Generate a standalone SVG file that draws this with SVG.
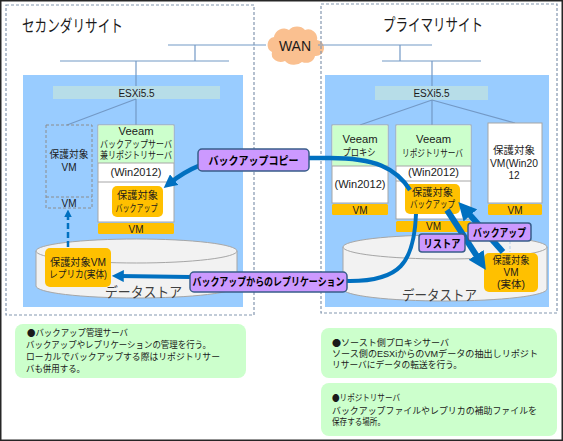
<svg xmlns="http://www.w3.org/2000/svg" width="563" height="441" viewBox="0 0 563 441">
<defs>
<style>
text{font-family:"Liberation Sans","Noto Sans CJK JP",sans-serif;fill:#1a1a1a}
.t{font-size:10px;text-anchor:middle}
.title{font-size:17px}
.site{fill:none;stroke:#8497b0;stroke-width:1.2;stroke-dasharray:3 2}
.panel{fill:#99ccff}
.esx{fill:#b7dde8}
.net{stroke:#7399c6;stroke-width:1.2;fill:none}
.box{fill:#fff;stroke:#a6a6a6;stroke-width:1}
.hdr{fill:#ccffcc}
.vm{fill:#ffc000}
.cyl{fill:#f2f2f2;stroke:#a6a6a6;stroke-width:1}
.ds{font-size:14px;fill:#404040}
.arr{fill:none;stroke:#0070c0}
.lbl{fill:#cc99ff;stroke:#385d8a;stroke-width:1.5}
.lt{font-size:11px;font-weight:bold;text-anchor:middle;fill:#000}
.note{fill:#ccffcc}
.nt{font-size:9px}
.dot{font-family:"Noto Sans CJK JP",sans-serif}
</style>
<marker id="ah" viewBox="0 0 10 10" refX="4" refY="5" markerWidth="3" markerHeight="3" orient="auto"><path d="M0,0 L10,5 L0,10 z" fill="#0070c0"/></marker>
</defs>
<rect x="0.75" y="0.75" width="561.5" height="439.5" fill="#fff" stroke="#262626" stroke-width="1.5"/>

<g id="wan">
<path d="M272 52 a8 8 0 0 1 2 -15 a10 10 0 0 1 15 -7 a10 9 0 0 1 16 0 a9 9 0 0 1 12 10 a8 8 0 0 1 -2 16 a9 8 0 0 1 -13 6 a11 9 0 0 1 -17 -1 a9 8 0 0 1 -13 -9 z" fill="#fac090"/>
<text x="295" y="51" font-size="14" text-anchor="middle">WAN</text>
</g>

<g id="secondary-site">
<rect class="site" x="6" y="5" width="248" height="310"/>
<text class="title" x="22" y="32" textLength="101" lengthAdjust="spacingAndGlyphs">セカンダリサイト</text>
<rect class="panel" x="23" y="75" width="220" height="232"/>
<rect class="esx" x="53" y="86" width="167" height="13"/>
<text x="136.5" y="96.5" font-size="10" text-anchor="middle">ESXi5.5</text>
</g>

<g id="primary-site">
<rect class="site" x="321" y="4" width="236" height="309"/>
<text class="title" x="383" y="31" textLength="100" lengthAdjust="spacingAndGlyphs">プライマリサイト</text>
<rect class="panel" x="325" y="75" width="224" height="232"/>
<rect class="esx" x="375" y="86" width="113" height="14"/>
<text x="431.5" y="97" font-size="10" text-anchor="middle">ESXi5.5</text>
</g>

<g id="network">
<path class="net" d="M168 45 H266 M318 45 H432 M195 45 V61 M60 61 H229 M136 61 V86 M136 99 V125 M136 99 L67 125 M400 45 V61 M382 61 H481 M432 61 V86 M432 100 V125 M432 100 L360 125 M432 100 L515 123"/>
</g>

<g id="left-datastore">
<path class="cyl" d="M36 251 V286 A100.5 12 0 0 0 237 286 V251"/>
<ellipse class="cyl" cx="136.5" cy="251" rx="100.5" ry="12"/>
<text class="ds" x="105" y="297" textLength="77" lengthAdjust="spacingAndGlyphs">データストア</text>
</g>

<g id="right-datastore">
<path class="cyl" d="M343 247 V289 A102 12 0 0 0 547 289 V247"/>
<ellipse class="cyl" cx="445" cy="247" rx="102" ry="12"/>
<text class="ds" x="402" y="300" textLength="75" lengthAdjust="spacingAndGlyphs">データストア</text>
</g>

<g id="left-protected-vm">
<rect x="46" y="125" width="46" height="83" fill="none" stroke="#8c8c8c" stroke-dasharray="3 2"/>
<line x1="46" y1="197" x2="92" y2="197" stroke="#8c8c8c" stroke-dasharray="3 2"/>
<text class="t" x="69" y="158" textLength="39" lengthAdjust="spacingAndGlyphs">保護対象</text>
<text class="t" x="69" y="171">VM</text>
<text class="t" x="69" y="207">VM</text>
</g>

<g id="veeam-backup-server">
<rect class="box" x="98" y="125" width="76" height="97"/>
<rect class="hdr" x="98.5" y="125.5" width="75" height="37.5"/>
<line x1="98" y1="163" x2="174" y2="163" stroke="#a6a6a6"/>
<line x1="98" y1="182" x2="174" y2="182" stroke="#a6a6a6"/>
<text class="t" x="136" y="135" textLength="35" lengthAdjust="spacingAndGlyphs">Veeam</text>
<text class="t" x="136" y="147.5" font-size="9.2" textLength="72" lengthAdjust="spacingAndGlyphs">バックアップサーバ</text>
<text class="t" x="136" y="159" font-size="9.2" textLength="72" lengthAdjust="spacingAndGlyphs">兼リポジトリサーバ</text>
<text class="t" x="136" y="176" textLength="51" lengthAdjust="spacingAndGlyphs">(Win2012)</text>
<rect class="vm" x="112" y="186" width="51" height="31" rx="5"/>
<text class="t" x="137.5" y="199" textLength="41" lengthAdjust="spacingAndGlyphs">保護対象</text>
<text class="t" x="136.5" y="212" textLength="42" lengthAdjust="spacingAndGlyphs">バックアップ</text>
<rect class="vm" x="98" y="223" width="76" height="11" rx="1.5"/>
<text class="t" x="136" y="232.5">VM</text>
</g>

<g id="left-replica">
<rect class="vm" x="45" y="248" width="66" height="39" rx="5"/>
<text class="t" x="78" y="266" textLength="56" lengthAdjust="spacingAndGlyphs">保護対象VM</text>
<text class="t" x="78" y="278" textLength="58" lengthAdjust="spacingAndGlyphs">レプリカ(実体)</text>
</g>

<g id="veeam-proxy">
<rect class="box" x="332" y="125" width="56" height="78"/>
<rect class="hdr" x="332.5" y="125.5" width="55" height="40.5"/>
<line x1="332" y1="166" x2="388" y2="166" stroke="#a6a6a6"/>
<text class="t" x="360" y="143" textLength="35" lengthAdjust="spacingAndGlyphs">Veeam</text>
<text class="t" x="359" y="156" textLength="33" lengthAdjust="spacingAndGlyphs">プロキシ</text>
<text class="t" x="360" y="188" textLength="51" lengthAdjust="spacingAndGlyphs">(Win2012)</text>
<rect class="vm" x="332" y="204" width="56" height="11" rx="1.5"/>
<text class="t" x="360" y="213.5">VM</text>
</g>

<g id="veeam-repository">
<rect class="box" x="396" y="125" width="75" height="94"/>
<rect class="hdr" x="396.5" y="125.5" width="74" height="40.5"/>
<line x1="396" y1="166" x2="471" y2="166" stroke="#a6a6a6"/>
<line x1="396" y1="181" x2="471" y2="181" stroke="#a6a6a6"/>
<text class="t" x="433.5" y="143" textLength="35" lengthAdjust="spacingAndGlyphs">Veeam</text>
<text class="t" x="432.5" y="157" textLength="61" lengthAdjust="spacingAndGlyphs">リポジトリサーバ</text>
<text class="t" x="433.5" y="176" textLength="51" lengthAdjust="spacingAndGlyphs">(Win2012)</text>
<rect class="vm" x="405" y="184" width="55" height="30" rx="5"/>
<text class="t" x="432.5" y="196" textLength="41" lengthAdjust="spacingAndGlyphs">保護対象</text>
<text class="t" x="432.5" y="208" textLength="45" lengthAdjust="spacingAndGlyphs">バックアップ</text>
<rect class="vm" x="396" y="221" width="75" height="11" rx="1.5"/>
<text class="t" x="433.5" y="230">VM</text>
</g>

<g id="right-protected-vm">
<rect class="box" x="488" y="123" width="54" height="80"/>
<text class="t" x="514" y="154" textLength="42" lengthAdjust="spacingAndGlyphs">保護対象</text>
<text class="t" x="514" y="167" textLength="48" lengthAdjust="spacingAndGlyphs">VM(Win20</text>
<text class="t" x="514" y="179">12</text>
<rect class="vm" x="488" y="204" width="54" height="11" rx="1.5"/>
<text class="t" x="515" y="213.5">VM</text>
</g>

<g id="right-vm-entity">
<rect class="vm" x="484" y="253" width="54" height="39" rx="5"/>
<text class="t" x="511" y="264" textLength="37" lengthAdjust="spacingAndGlyphs">保護対象</text>
<text class="t" x="511" y="276">VM</text>
<text class="t" x="511" y="288" textLength="28" lengthAdjust="spacingAndGlyphs">(実体)</text>
</g>

<g id="connectors">
<line x1="510" y1="216" x2="510" y2="252" stroke="#b4cde8" stroke-width="1" stroke-dasharray="3 2"/>
<path class="arr" stroke-width="2.5" stroke-dasharray="6 3" d="M68 247 V214" marker-end="url(#ah)"/>
<path class="arr" stroke-width="4.5" d="M410 190 C396 168 375 158 330 158 L232 158 C205 160 185 171 170 183" marker-end="url(#ah)"/>
<path class="arr" stroke-width="4" d="M416 214 C414 264 399 281 350 281 L190 277 L119 276" marker-end="url(#ah)"/>
<path class="arr" stroke-width="6" d="M447 210 L480 261" marker-end="url(#ah)"/>
<path class="arr" stroke-width="6" d="M503 252 L465.5 210" marker-end="url(#ah)"/>
</g>

<g id="label-backup-copy">
<rect class="lbl" x="198" y="149" width="111" height="22" rx="4"/>
<text class="lt" x="253.5" y="164.5" textLength="90" lengthAdjust="spacingAndGlyphs">バックアップコピー</text>
</g>
<g id="label-replication">
<rect class="lbl" x="190" y="272" width="157" height="20" rx="4"/>
<text class="lt" x="268.5" y="286" textLength="152" lengthAdjust="spacingAndGlyphs">バックアップからのレプリケーション</text>
</g>
<g id="label-restore">
<rect class="lbl" x="419" y="234" width="46" height="18" rx="3"/>
<text class="lt" x="442" y="247.5" textLength="37" lengthAdjust="spacingAndGlyphs">リストア</text>
</g>
<g id="label-backup">
<rect class="lbl" x="468" y="223" width="63" height="18" rx="3"/>
<text class="lt" x="499.5" y="236.5" textLength="53" lengthAdjust="spacingAndGlyphs">バックアップ</text>
</g>

<g id="note-backup-server">
<rect class="note" x="15" y="324" width="231" height="54" rx="8"/>
<text class="nt" x="27" y="336" textLength="101" lengthAdjust="spacingAndGlyphs"><tspan class="dot">●</tspan>バックアップ管理サーバ</text>
<text class="nt" x="26" y="348" textLength="185" lengthAdjust="spacingAndGlyphs">バックアップやレプリケーションの管理を行う。</text>
<text class="nt" x="26" y="360" textLength="194" lengthAdjust="spacingAndGlyphs">ローカルでバックアップする際はリポジトリサー</text>
<text class="nt" x="26" y="372" textLength="59" lengthAdjust="spacingAndGlyphs">バも併用する。</text>
</g>

<g id="note-proxy">
<rect class="note" x="321" y="328" width="236" height="50" rx="8"/>
<text class="nt" x="332" y="346" textLength="117" lengthAdjust="spacingAndGlyphs"><tspan class="dot">●</tspan>ソースト側プロキシサーバ</text>
<text class="nt" x="332" y="357" textLength="206" lengthAdjust="spacingAndGlyphs">ソース側のESXiからのVMデータの抽出しリポジト</text>
<text class="nt" x="332" y="368" textLength="130" lengthAdjust="spacingAndGlyphs">リサーバにデータの転送を行う。</text>
</g>

<g id="note-repository">
<rect class="note" x="321" y="383" width="236" height="53" rx="8"/>
<text class="nt" x="332" y="401" textLength="68" lengthAdjust="spacingAndGlyphs"><tspan class="dot">●</tspan>リポジトリサーバ</text>
<text class="nt" x="332" y="414" textLength="205" lengthAdjust="spacingAndGlyphs">バックアップファイルやレプリカの補助ファイルを</text>
<text class="nt" x="332" y="425" textLength="53" lengthAdjust="spacingAndGlyphs">保存する場所。</text>
</g>
</svg>
